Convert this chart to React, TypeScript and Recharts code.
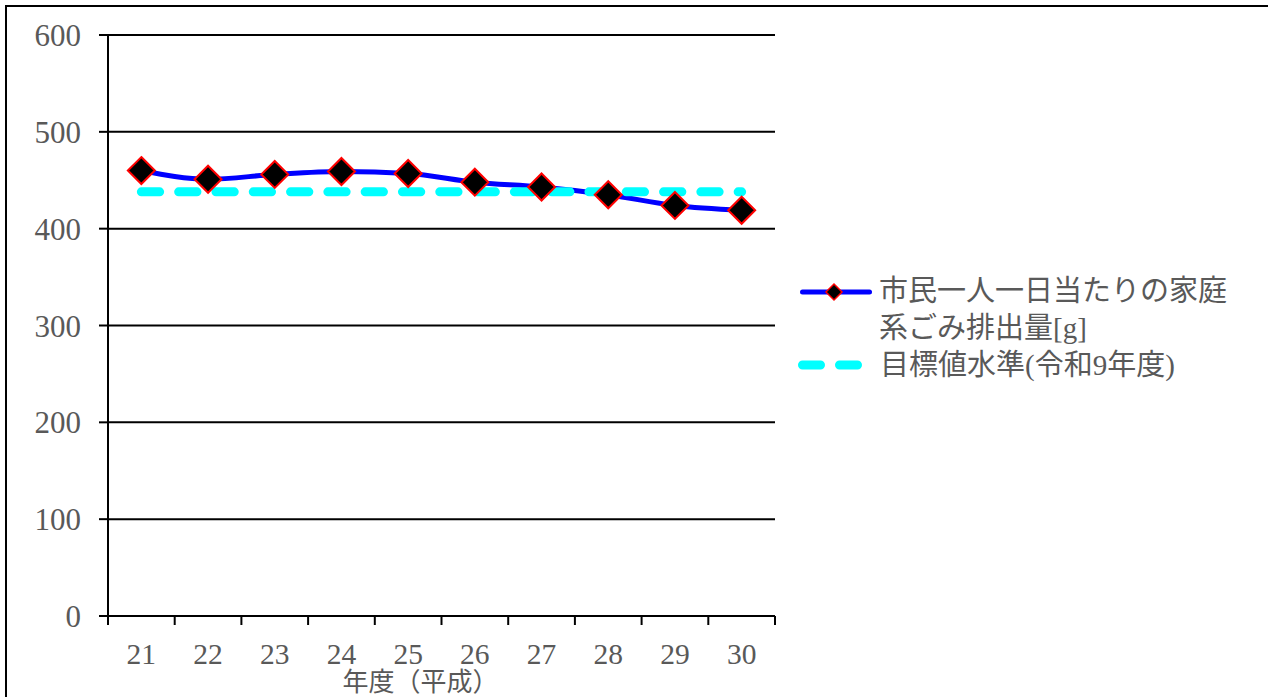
import React from 'react';
import { LineChart, Line, XAxis, YAxis, CartesianGrid, Legend } from 'recharts';

const categories = ['21', '22', '23', '24', '25', '26', '27', '28', '29', '30'];
const householdWaste = [460, 451, 456, 459, 457, 448, 443, 435, 424, 419];
const targetLevel = [438, 438, 438, 438, 438, 438, 438, 438, 438, 438];
const yTicks = [0, 100, 200, 300, 400, 500, 600];
const seriesNames = ['市民一人一日当たりの家庭系ごみ排出量[g]', '目標値水準(令和9年度)'];
const legendLines = [['市民一人一日当たりの家庭', '系ごみ排出量[g]'], ['目標値水準(令和9年度)']];
const xAxisTitle = '年度（平成）';

const data = categories.map((c, i) => ({
  idx: i,
  label: c,
  waste: householdWaste[i],
  target: targetLevel[i],
}));

// ticks: band boundaries (for tick marks) and centers (for labels)
const xTicks: number[] = [];
for (let i = 0; i <= categories.length * 2; i++) xTicks.push(-0.5 + i * 0.5);

const SERIF = "'Liberation Serif', 'Noto Sans CJK JP', serif";
const GRAY = '#595959';

const XTick = (props: any) => {
  const { x, y, payload } = props;
  const v = payload.value as number;
  if (Number.isInteger(v)) {
    return (
      <text x={x} y={y + 38} textAnchor="middle" dominantBaseline="central" fill={GRAY}
        fontSize={29.5} fontFamily={SERIF}>
        {categories[v]}
      </text>
    );
  }
  return <line x1={x} y1={y} x2={x} y2={y + 9} stroke="#000" strokeWidth={2} />;
};

const Diamond = (props: any) => {
  const { cx, cy, index } = props;
  if (cx == null || cy == null) return null;
  const r = 13.5;
  return (
    <polygon key={`d-${index}`}
      points={`${cx},${cy - r} ${cx + r},${cy} ${cx},${cy + r} ${cx - r},${cy}`}
      fill="#000" stroke="#ff0000" strokeWidth={2} />
  );
};

const AxisTitle = (props: any) => {
  const vb = props.viewBox || {};
  return (
    <text x={vb.x + vb.width / 2 - 21} y={vb.y + 63} textAnchor="middle" dominantBaseline="central"
      fill={GRAY} fontSize={26} fontFamily="'Noto Sans CJK JP', sans-serif">
      {xAxisTitle}
    </text>
  );
};

const LegendContent = () => (
  <svg width={470} height={120} style={{ display: 'block', overflow: 'visible' }}>
    <line x1={12.5} y1={27} x2={79.5} y2={27} stroke="#0000ff" strokeWidth={5} strokeLinecap="round" />
    <polygon points="44,19 52,27 44,35 36,27" fill="#000" stroke="#ff0000" strokeWidth={1.5} />
    {legendLines[0].map((t, i) => (
      <text key={i} x={89} y={26 + i * 37} dominantBaseline="central" fill={GRAY} fontSize={29} fontFamily={SERIF}>{t}</text>
    ))}
    <line x1={12.5} y1={100} x2={67.5} y2={100} stroke="#00ffff" strokeWidth={9}
      strokeDasharray="18 19" strokeLinecap="round" />
    <text x={90} y={100} dominantBaseline="central" fill={GRAY} fontSize={29} fontFamily={SERIF}>{legendLines[1][0]}</text>
  </svg>
);

export default function App() {
  return (
    <div style={{ position: 'fixed', left: 0, top: 0, width: 1268, height: 697, overflow: 'hidden', background: '#fff' }}>
      <div style={{ position: 'absolute', left: 5, top: 5, width: 1400, height: 800, border: '2px solid #000', boxSizing: 'border-box' }} />
      <div style={{ position: 'absolute', left: 0, top: 0 }}>
        <LineChart width={1268} height={697} data={data}
          margin={{ top: 35, right: 493, bottom: 0, left: 0 }}>
          <CartesianGrid horizontal vertical={false} stroke="#000" strokeWidth={2} />
          <XAxis dataKey="idx" type="number" domain={[-0.5, 9.5]} ticks={xTicks} interval={0}
            height={81} tickSize={0} tickMargin={0} tickLine={false} tick={<XTick />}
            axisLine={{ stroke: '#000', strokeWidth: 2 }} label={<AxisTitle />} allowDecimals />
          <YAxis domain={[0, 600]} ticks={yTicks} width={108} tickSize={9} tickMargin={18} interval={0}
            axisLine={{ stroke: '#000', strokeWidth: 2 }} tickLine={{ stroke: '#000', strokeWidth: 2 }}
            tick={{ fill: GRAY, fontSize: 31, fontFamily: SERIF }} />
          <Legend layout="vertical" align="center" verticalAlign="middle"
            wrapperStyle={{ left: 790, top: 265, width: 470, height: 120 }} content={<LegendContent />} />
          <Line type="monotone" dataKey="waste" name={seriesNames[0]} stroke="#0000ff" strokeWidth={5}
            dot={<Diamond />} activeDot={false} isAnimationActive={false} />
          <Line type="linear" dataKey="target" name={seriesNames[1]} stroke="#00ffff" strokeWidth={9}
            strokeDasharray="18.3 19" strokeLinecap="round" dot={false} activeDot={false} isAnimationActive={false} />
        </LineChart>
      </div>
    </div>
  );
}
